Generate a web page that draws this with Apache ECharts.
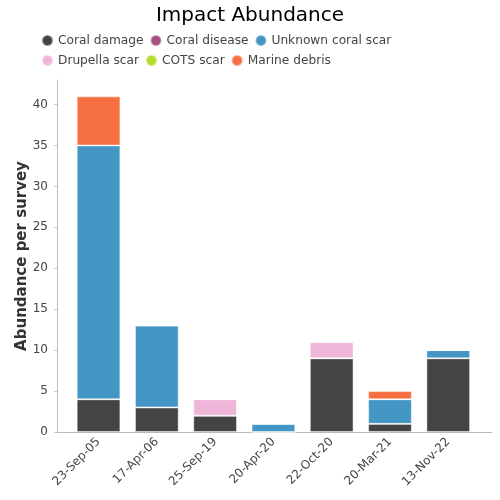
<!DOCTYPE html>
<html><head><meta charset="utf-8">
<script src="https://cdn.jsdelivr.net/npm/echarts@6/dist/echarts.min.js"></script>
<style>html,body{margin:0;padding:0;background:#fff}#c{width:500px;height:500px}</style>
</head><body><div id="c"></div>
<script>
const categories = ['23-Sep-05','17-Apr-06','25-Sep-19','20-Apr-20','22-Oct-20','20-Mar-21','13-Nov-22'];
const seriesNames = ['Coral damage','Coral disease','Unknown coral scar','Drupella scar','COTS scar','Marine debris'];
const coralDamage = [4,3,2,0,9,1,9];
const coralDisease = [0,0,0,0,0,0,0];
const unknownScar = [31,10,0,1,0,3,1];
const drupellaScar = [0,0,2,0,2,0,0];
const cotsScar = [0,0,0,0,0,0,0];
const marineDebris = [6,0,0,0,0,1,0];
const colors = ['#444444','#a8507e','#4496c5','#f0b6d9','#b5dd2a','#f56f42'];
const values = [coralDamage,coralDisease,unknownScar,drupellaScar,cotsScar,marineDebris];
const yMax = 43;

const chart = echarts.init(document.getElementById('c'));
const font = 'DejaVu Sans';
const legendBase = {left:36,icon:'circle',itemWidth:11,itemHeight:11,itemGap:6,
    textStyle:{fontFamily:font,fontSize:12.2,color:'#444'}};
chart.setOption({
  animation:false,
  color:colors,
  textStyle:{fontFamily:font},
  title:{text:'Impact Abundance',left:'center',top:1,textStyle:{fontFamily:font,fontSize:20,fontWeight:'normal',color:'#000'}},
  legend:[
    Object.assign({top:29,data:seriesNames.slice(0,3)},legendBase),
    Object.assign({top:49,data:seriesNames.slice(3)},legendBase)
  ],
  grid:[
    {left:57,right:8,top:80,bottom:68},
    {left:69.4,width:408,top:80,bottom:68}
  ],
  xAxis:[
    {type:'category',gridIndex:0,data:categories,
      axisLine:{lineStyle:{color:'#bbb'}},axisTick:{show:false},axisLabel:{show:false}},
    {type:'category',gridIndex:1,data:categories,
      axisLine:{show:false},axisTick:{show:false},
      axisLabel:{rotate:45,fontSize:12,color:'#444',fontFamily:font,margin:8}}
  ],
  yAxis:[
    {type:'value',gridIndex:0,min:0,max:yMax,interval:5,name:'Abundance per survey',nameLocation:'middle',nameGap:27,
      nameMoveOverlap:false,
      nameTextStyle:{fontSize:15,fontWeight:'bold',color:'#333',fontFamily:font},
      axisLine:{show:true,lineStyle:{color:'#bbb'}},axisTick:{show:true,length:3,lineStyle:{color:'#ccc'}},
      splitLine:{show:false},
      axisLabel:{showMaxLabel:false,fontSize:12,color:'#444',fontFamily:font,margin:9}},
    {type:'value',gridIndex:1,min:0,max:yMax,show:false,splitLine:{show:false}}
  ],
  series: seriesNames.map((n,i)=>({name:n,type:'bar',stack:'all',data:values[i],barWidth:'75%',
    xAxisIndex:1,yAxisIndex:1,
    itemStyle:{color:colors[i],borderColor:'rgba(255,255,255,0.45)',borderWidth:1}}))
});
</script></body></html>
